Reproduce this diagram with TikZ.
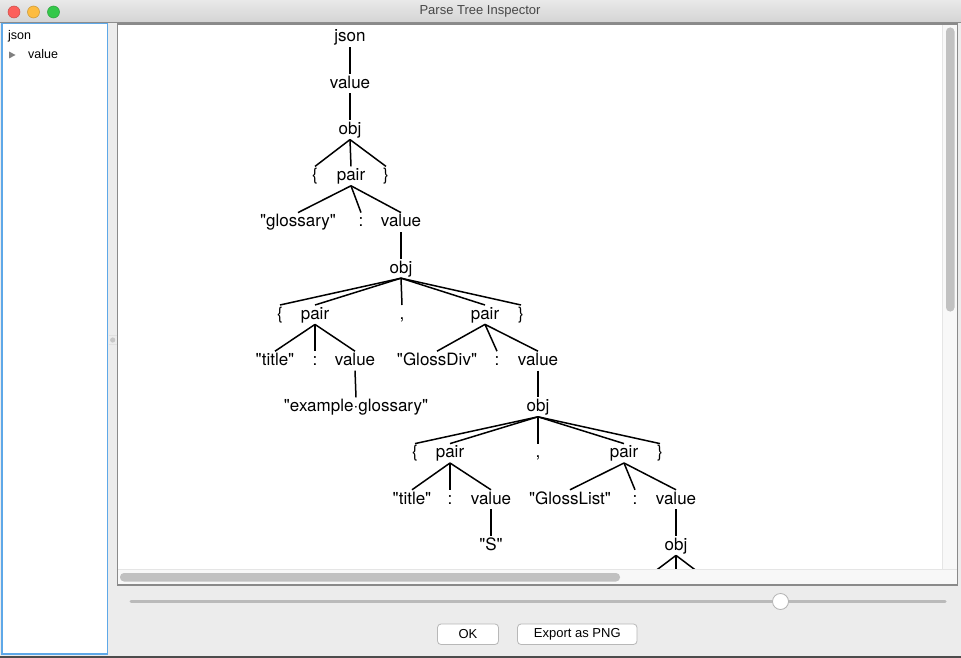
\documentclass[tikz,border=0pt]{standalone}
\usepackage{fontspec}
\setmainfont{TeX Gyre Heros}[Ligatures=TeXOff]
\newfontfamily\uifont{Liberation Sans}
\newcommand{\dq}{\symbol{34}}
\definecolor{winbg}{HTML}{ECECEC}
\definecolor{titletop}{HTML}{E9E9E9}
\definecolor{titlebot}{HTML}{D4D4D4}
\definecolor{panelblue}{HTML}{5EA8E8}
\definecolor{thumb}{HTML}{C1C1C1}
\definecolor{track}{HTML}{F8F8F8}
\definecolor{frame}{HTML}{8A8A8A}
\definecolor{redl}{HTML}{FC605B}
\definecolor{yell}{HTML}{FDBC40}
\definecolor{grnl}{HTML}{34C84A}
\begin{document}
\begin{tikzpicture}[x=1pt,y=-1pt,
  t/.style={font=\fontsize{17}{19}\selectfont, inner sep=0pt, text height=14pt, text depth=5pt, anchor=base},
  edge/.style={line width=1.5pt, black},
  ui/.style={font=\uifont\fontsize{12.5}{14}\selectfont, inner sep=0pt, anchor=base west},
  btn/.style={draw=black!28, fill=white, rounded corners=3.5pt, line width=0.8pt},
  btntext/.style={font=\uifont\fontsize{13}{15}\selectfont, inner sep=0pt}
]
\useasboundingbox (0,0) rectangle (961,658);
% window background
\fill[winbg] (0,0) rectangle (961,658);
% title bar
\shade[top color=titletop, bottom color=titlebot] (0,0) rectangle (961,22);
\draw[black!45, line width=1pt] (0,22.5) -- (961,22.5);
\node[font=\uifont\fontsize{13}{15}\selectfont, text=black!72, inner sep=0pt] (title) at (480,11.5) {Parse Tree Inspector};
\fill[redl, draw=redl!80!black, line width=0.5pt] (14,12) circle (6);
\fill[yell, draw=yell!80!black, line width=0.5pt] (33.5,12) circle (6);
\fill[grnl, draw=grnl!80!black, line width=0.5pt] (53.5,12) circle (6);
% left panel
\fill[white] (2,23.5) rectangle (107.5,654);
\draw[panelblue, line width=1.5pt] (2,23.5) rectangle (107.5,654);
\node[ui] (tjson) at (8,39.5) {json};
\fill[black!50] (9,51.5) -- (15.5,55) -- (9,58.5) -- cycle;
\node[ui] (tvalue) at (28,58.5) {value};
% divider
\draw[black!12, line width=0.6pt] (108.5,335.5) -- (117,335.5) (108.5,344.5) -- (117,344.5);
\fill[black!22] (112.7,340) circle (2.6);
% main pane
\fill[white] (117.5,24) rectangle (957.5,585);
\draw[frame, line width=1.6pt] (117.5,24) rectangle (957.5,585);
% tree
\begin{scope}
\clip (118.5,25) rectangle (942,569);
% level 0..2
\node[t] (n0) at (350,42) {json};
\node[t] (n1) at (350,88.2) {value};
\node[t] (n2) at (350,134.4) {obj};
% level 3
\node[t] (n3a) at (315,180.6) {\{};
\node[t] (n3b) at (351,180.6) {pair};
\node[t] (n3c) at (386,180.6) {\}};
% level 4
\node[t] (n4a) at (298,226.8) {\dq glossary\dq};
\node[t] (n4b) at (361,226.8) {:};
\node[t] (n4c) at (401,226.8) {value};
% level 5
\node[t] (n5) at (401,273) {obj};
% level 6
\node[t] (n6a) at (280,319.2) {\{};
\node[t] (n6b) at (315,319.2) {pair};
\node[t] (n6c) at (402,319.2) {,};
\node[t] (n6d) at (485,319.2) {pair};
\node[t] (n6e) at (521,319.2) {\}};
% level 7
\node[t] (n7a) at (275,365.4) {\dq title\dq};
\node[t] (n7b) at (315,365.4) {:};
\node[t] (n7c) at (355,365.4) {value};
\node[t] (n7d) at (437,365.4) {\dq GlossDiv\dq};
\node[t] (n7e) at (497,365.4) {:};
\node[t] (n7f) at (538,365.4) {value};
% level 8
\node[t] (n8a) at (356,411.6) {\dq example·glossary\dq};
\node[t] (n8b) at (538,411.6) {obj};
% level 9
\node[t] (n9a) at (415,457.8) {\{};
\node[t] (n9b) at (450,457.8) {pair};
\node[t] (n9c) at (538,457.8) {,};
\node[t] (n9d) at (624,457.8) {pair};
\node[t] (n9e) at (660,457.8) {\}};
% level 10
\node[t] (n10a) at (412,504) {\dq title\dq};
\node[t] (n10b) at (450,504) {:};
\node[t] (n10c) at (491,504) {value};
\node[t] (n10d) at (570,504) {\dq GlossList\dq};
\node[t] (n10e) at (635,504) {:};
\node[t] (n10f) at (676,504) {value};
% level 11
\node[t] (n11a) at (491,550.2) {\dq S\dq};
\node[t] (n11b) at (676,550.2) {obj};
\coordinate (c12a) at (650,575);
\coordinate (c12b) at (676,575);
\coordinate (c12c) at (702,575);
% edges
\draw[edge] (n0.south) -- (n1.north);
\draw[edge] (n1.south) -- (n2.north);
\foreach \c in {n3a,n3b,n3c} \draw[edge] (n2.south) -- (\c.north);
\foreach \c in {n4a,n4b,n4c} \draw[edge] (n3b.south) -- (\c.north);
\draw[edge] (n4c.south) -- (n5.north);
\foreach \c in {n6a,n6b,n6c,n6d,n6e} \draw[edge] (n5.south) -- (\c.north);
\foreach \c in {n7a,n7b,n7c} \draw[edge] (n6b.south) -- (\c.north);
\foreach \c in {n7d,n7e,n7f} \draw[edge] (n6d.south) -- (\c.north);
\draw[edge] (n7c.south) -- (n8a.north);
\draw[edge] (n7f.south) -- (n8b.north);
\foreach \c in {n9a,n9b,n9c,n9d,n9e} \draw[edge] (n8b.south) -- (\c.north);
\foreach \c in {n10a,n10b,n10c} \draw[edge] (n9b.south) -- (\c.north);
\foreach \c in {n10d,n10e,n10f} \draw[edge] (n9d.south) -- (\c.north);
\draw[edge] (n10c.south) -- (n11a.north);
\draw[edge] (n10f.south) -- (n11b.north);
\foreach \c in {c12a,c12b,c12c} \draw[edge] (n11b.south) -- (\c);
\end{scope}
% scrollbars
\fill[track] (942,25) rectangle (956.7,569);
\draw[black!10, line width=0.6pt] (942,25) -- (942,569);
\fill[track] (118.3,569) rectangle (956.7,584.2);
\draw[black!10, line width=0.6pt] (118.3,569) -- (956.7,569);
\fill[thumb, rounded corners=4pt] (946,27.5) rectangle (954.5,311.5);
\fill[thumb, rounded corners=4pt] (120,573) rectangle (620,581.5);
% slider
\draw[black!27, line width=3pt, line cap=round] (131,601.5) -- (945,601.5);
\fill[white, draw=black!30, line width=0.8pt] (780.5,601.5) circle (8);
% buttons
\draw[btn] (437.5,624) rectangle (498.5,644.5);
\node[btntext] (ok) at (468,634.5) {OK};
\draw[btn] (517.5,624) rectangle (637,644.5);
\node[btntext] (export) at (577.3,634.5) {Export as PNG};
% bottom frame line
\draw[black!70, line width=2pt] (0,657) -- (961,657);
\end{tikzpicture}
\end{document}
